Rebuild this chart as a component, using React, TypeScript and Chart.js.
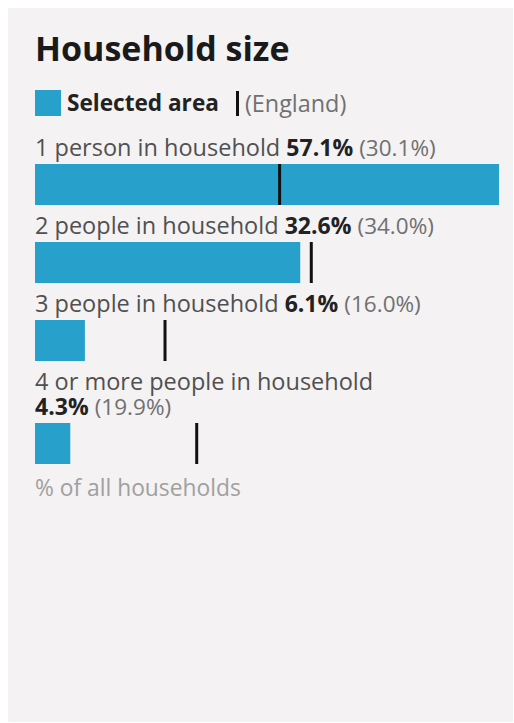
import React, { useEffect, useRef } from "react";
import { Chart, registerables } from "chart.js";

Chart.register(...registerables);

const title = "Household size";
const legendSelected = "Selected area";
const legendComparison = "(England)";
const categories = [
  "1 person in household",
  "2 people in household",
  "3 people in household",
  "4 or more people in household",
];
const selectedArea = [57.1, 32.6, 6.1, 4.3];
const england = [30.1, 34.0, 16.0, 19.9];
const footerLabel = "% of all households";

const BLUE = "#27a0cc";
const MARKER = "#111111";
const FONT = "'Open Sans', 'Noto Sans', sans-serif";
const scaleMax = Math.max(...selectedArea);

const markerPlugin = {
  id: "englandMarker",
  afterDatasetsDraw(chart: any, _args: any, opts: any) {
    const { ctx, chartArea, scales } = chart;
    const x = scales.x.getPixelForValue(opts.value);
    ctx.save();
    ctx.strokeStyle = MARKER;
    ctx.lineWidth = 3;
    ctx.beginPath();
    ctx.moveTo(x, chartArea.top);
    ctx.lineTo(x, chartArea.bottom);
    ctx.stroke();
    ctx.restore();
  },
};

function RowChart({ label, value, comparison }: { label: string; value: number; comparison: number }) {
  const ref = useRef<HTMLCanvasElement | null>(null);
  useEffect(() => {
    if (!ref.current) return;
    const chart = new Chart(ref.current, {
      type: "bar",
      data: {
        labels: [label],
        datasets: [
          {
            data: [value],
            backgroundColor: BLUE,
            borderWidth: 0,
            barPercentage: 1,
            categoryPercentage: 1,
          },
        ],
      },
      options: {
        indexAxis: "y",
        animation: false,
        responsive: true,
        maintainAspectRatio: false,
        layout: { padding: 0 },
        scales: {
          x: { type: "linear", min: 0, max: scaleMax, display: false, grid: { display: false } },
          y: { type: "category", display: false, grid: { display: false } },
        },
        plugins: {
          legend: { display: false },
          tooltip: { enabled: false },
          englandMarker: { value: comparison },
        } as any,
      },
      plugins: [markerPlugin],
    });
    return () => chart.destroy();
  }, [label, value, comparison]);
  return (
    <div style={{ position: "relative", width: 464, height: 41 }}>
      <canvas ref={ref} />
    </div>
  );
}

export default function App() {
  return (
    <div
      style={{
        position: "fixed",
        left: 8,
        top: 8,
        right: 1,
        bottom: 1,
        background: "#f4f2f3",
        fontFamily: FONT,
        boxSizing: "border-box",
      }}
    >
      <div
        style={{
          position: "absolute",
          left: 27,
          top: 23,
          fontSize: 34,
          lineHeight: "34px",
          fontWeight: 700,
          color: "#1a1a1a",
          whiteSpace: "nowrap",
        }}
      >
        {title}
      </div>
      <div
        style={{
          position: "absolute",
          left: 27,
          top: 82,
          height: 26,
          display: "flex",
          alignItems: "center",
          lineHeight: "26px",
          whiteSpace: "nowrap",
        }}
      >
        <span style={{ display: "inline-block", width: 26, height: 26, background: BLUE, marginRight: 6 }} />
        <span style={{ fontWeight: 700, color: "#222", fontSize: 22.6 }}>{legendSelected}</span>
        <span style={{ display: "inline-block", width: 3, height: 25, background: MARKER, marginLeft: 17, marginRight: 6 }} />
        <span style={{ color: "#707070", fontSize: 23.4 }}>{legendComparison}</span>
      </div>
      <div style={{ position: "absolute", left: 27, top: 127, width: 470 }}>
        {categories.map((c, i) => (
          <div key={c} style={{ marginBottom: 8 }}>
            <div style={{ fontSize: 23.5, lineHeight: "25px", color: "#505050", marginBottom: 4, width: 466 }}>
              {c}{" "}
              <span style={{ whiteSpace: "nowrap" }}>
                <span style={{ fontWeight: 700, color: "#222", fontSize: 23 }}>{selectedArea[i].toFixed(1)}%</span>{" "}
                <span style={{ color: "#707070", fontSize: 22.5 }}>({england[i].toFixed(1)}%)</span>
              </span>
            </div>
            <RowChart label={c} value={selectedArea[i]} comparison={england[i]} />
          </div>
        ))}
        <div style={{ fontSize: 22.8, lineHeight: "26px", color: "#a0a0a0", marginTop: 11 }}>{footerLabel}</div>
      </div>
    </div>
  );
}
